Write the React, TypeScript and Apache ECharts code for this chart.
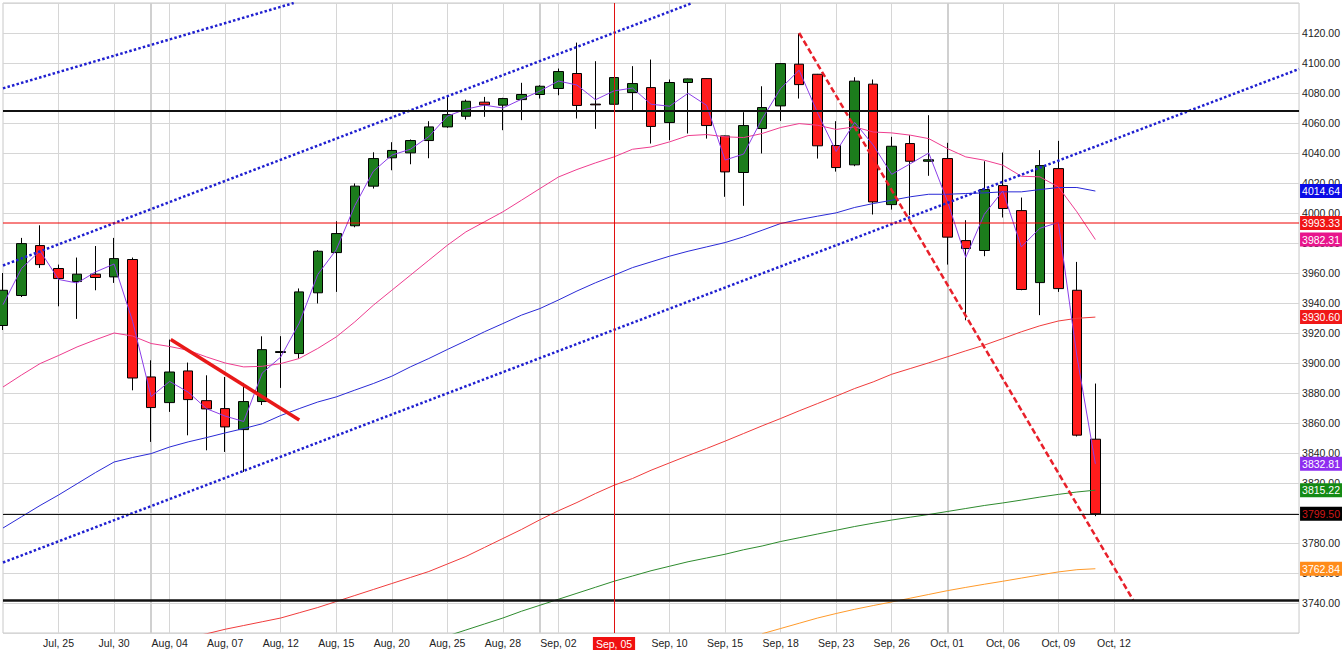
import React, { useEffect, useRef } from 'react';
import * as echarts from 'echarts';

// ---------- axis / tick labels ----------
const xLabels = ['Jul, 25', 'Jul, 30', 'Aug, 04', 'Aug, 07', 'Aug, 12', 'Aug, 15', 'Aug, 20', 'Aug, 25', 'Aug, 28', 'Sep, 02',
  'Sep, 05', 'Sep, 10', 'Sep, 15', 'Sep, 18', 'Sep, 23', 'Sep, 26', 'Oct, 01', 'Oct, 06', 'Oct, 09', 'Oct, 12'];
const slotCount = 71;          // bar slots on the axis (60 traded + empty future slots)
const firstLabelSlot = 3;
const labelStep = 3;
const highlightSlot = 33;      // Sep, 05 cursor
const monthStartSlots = [8, 29, 51];
const yMin = 3720;
const yMax = 4140;
const yStep = 20;

// ---------- candles: [open, close, low, high] ----------
const candles = [
  [3925, 3948.5, 3922, 3960], [3945, 3979.6, 3944, 3983.4], [3978.3, 3965.6, 3963.4, 3991.8], [3963, 3956.3, 3937.8, 3965.6],
  [3954.3, 3959.2, 3929.4, 3970.3], [3959.2, 3957, 3948.5, 3978], [3957.4, 3969.6, 3953.4, 3983.4], [3969, 3890, 3881.8, 3970.3],
  [3890.7, 3870.3, 3847.4, 3901.8], [3873.6, 3894, 3867.4, 3915.6], [3894.7, 3875.6, 3851.8, 3900.3], [3874.9, 3869.4, 3841.8, 3891.8],
  [3869.6, 3857.4, 3840.7, 3890.7], [3855.6, 3874.3, 3827.4, 3886.7], [3874.3, 3908.9, 3872, 3917.8], [3907, 3907.6, 3883.4, 3917.9],
  [3906.3, 3947.4, 3903, 3949.7], [3946.8, 3974.5, 3939.7, 3975.2], [3973.6, 3986.3, 3947.4, 3994.5], [3991.5, 4017.9, 3990.5, 4019.7],
  [4017.9, 4036.3, 4016.3, 4040.5], [4036.8, 4041.7, 4028.5, 4047.2], [4040.1, 4048.3, 4032.5, 4049], [4048.3, 4057.4, 4036.5, 4061.2],
  [4057.4, 4065.6, 4056.8, 4078.5], [4064.5, 4074.5, 4062.3, 4075.6], [4073.9, 4072.1, 4064.1, 4077.4], [4071.9, 4076.3, 4055.2, 4076.8],
  [4075.6, 4079, 4061.9, 4086.8], [4079, 4084.5, 4076.3, 4085.2], [4083, 4094.3, 4078.5, 4096.3], [4093, 4071.7, 4063, 4113.6],
  [4072.6, 4072.1, 4056.1, 4101.2], [4072.5, 4090.3, 4072.3, 4090.5], [4080.3, 4086.3, 4068.5, 4097.9], [4083.6, 4057.7, 4046.3, 4102.3],
  [4060.3, 4087, 4048.5, 4089], [4087, 4089.4, 4053, 4089.6], [4089.6, 4058.3, 4049.6, 4089.8], [4051.4, 4027.4, 4010.8, 4051.6],
  [4027, 4058.3, 4004.8, 4067.2], [4056.3, 4070.3, 4039.7, 4084.5], [4071.4, 4099.6, 4061.4, 4099.8], [4099.2, 4085.6, 4076.3, 4119.6],
  [4092.5, 4044.8, 4036.3, 4092.7], [4045, 4030.3, 4027.6, 4061.2], [4032.1, 4087.9, 4031.2, 4090.5], [4085.9, 4007.4, 3999, 4089],
  [4005.6, 4044.5, 4002.3, 4050.8], [4046.3, 4034.5, 3998.5, 4051.9], [4034.5, 4035.5, 4024.8, 4065.2], [4036.3, 3983.9, 3965.6, 4046.8],
  [3981.6, 3976.3, 3928.5, 3995.2], [3975, 4015.6, 3971.2, 4034.5], [4018.3, 4003, 3997, 4040.3], [4001.6, 3949, 3948.5, 4010.3],
  [3953.6, 4031.6, 3931.9, 4041.9], [4029.6, 3949.6, 3947.4, 4048.1], [3948.5, 3851.9, 3851, 3967.4], [3849.2, 3799.5, 3797.9, 3886.3],
];

// ---------- overlay lines ----------
const avgPriceLine = [
  3938.9, 3963, 3974.8, 3955.7, 3953.3, 3960.7, 3966, 3927.8, 3877.6, 3887.7,
  3880.6, 3869.5, 3864.6, 3861, 3893.3, 3904, 3926.6, 3959, 3975.5, 4004.9,
  4027.8, 4038.6, 4042.5, 4050.9, 4064.6, 4069.2, 4071.9, 4070, 4075.8, 4081.3,
  4088, 4085.3, 4075.5, 4081.4, 4083.3, 4072.5, 4071.2, 4079.8, 4071.8, 4035.3,
  4039.3, 4062.7, 4083, 4095.2, 4066.6, 4041, 4060.4, 4045.3, 4025.8, 4032.8,
  4040, 4008.2, 3970.4, 3999.1, 4014.7, 3977.4, 3989.8, 3993.7, 3904.7, 3832.81,
];
const pinkMa = [
  3884, 3892, 3899.6, 3905, 3910.7, 3915.5, 3920, 3918, 3913, 3911,
  3908.5, 3904, 3900, 3897.4, 3897.8, 3899.6, 3903, 3909.7, 3917.4, 3927.4,
  3938.5, 3948.5, 3958.5, 3968.5, 3978.5, 3987.4, 3994.1, 4000.8, 4008.5, 4016.3,
  4024, 4029, 4033.4, 4037.4, 4042.5, 4044, 4047.4, 4051.6, 4052.3, 4050.8,
  4050.3, 4053, 4057, 4059.6, 4058.5, 4055.7, 4057.4, 4054, 4053.4, 4051.9,
  4049.6, 4043, 4037.4, 4035.2, 4031.9, 4024.5, 4024.1, 4017.4, 4000.8, 3982.31,
];
const blueMa = [
  3790, 3797.5, 3805, 3812, 3819.5, 3827, 3834, 3837, 3839.6, 3844,
  3847.4, 3850.3, 3853.4, 3856.3, 3859.5, 3865, 3869.6, 3874, 3877.4, 3881.9,
  3886.3, 3891.2, 3897.4, 3903, 3909, 3914.8, 3920.8, 3926.3, 3931.9, 3936.3,
  3942, 3948, 3953.5, 3958.5, 3963.6, 3967.4, 3971.2, 3974.5, 3977.4, 3980.3,
  3984.1, 3988.5, 3993, 3995.6, 3997.9, 4000.1, 4003.7, 4006.3, 4008.5, 4010.8,
  4012.5, 4012.5, 4013, 4013.4, 4014.1, 4014.1, 4015.6, 4017, 4017, 4014.64,
];
const redMa = [
  null, null, null, null, null, null, null, null, null, null,
  3717, 3719.5, 3722.5, 3725, 3727.5, 3730, 3733.5, 3737, 3741, 3745,
  3749, 3753, 3757, 3761, 3766, 3771, 3777, 3783, 3789, 3795.5,
  3801.5, 3807, 3813, 3818.5, 3823, 3828.5, 3833.4, 3838.3, 3843, 3847.9,
  3853, 3858.1, 3863, 3868.1, 3873, 3877.9, 3883, 3887.4, 3892.5, 3896.3,
  3900.1, 3904.1, 3908.1, 3911.9, 3916.3, 3920.8, 3924.8, 3928, 3929.8, 3930.6,
];
const greenMa = [
  null, null, null, null, null, null, null, null, null, null,
  null, null, null, null, null, null, null, null, null, null,
  null, null, null, null, 3718, 3722, 3726, 3730, 3734.5, 3738.5,
  3742.5, 3746.5, 3750.5, 3754.5, 3758, 3761.5, 3764.5, 3767.5, 3770, 3772.5,
  3775.5, 3778, 3781, 3783.5, 3786, 3788.5, 3791, 3793.2, 3795.3, 3797.2,
  3799, 3801, 3803, 3805, 3806.7, 3808.6, 3810.6, 3812.4, 3814, 3815.22,
];
const orangeMa = [
  null, null, null, null, null, null, null, null, null, null,
  null, null, null, null, null, null, null, null, null, null,
  null, null, null, null, null, null, null, null, null, null,
  null, null, null, null, null, null, null, null, null, null,
  null, 3719.5, 3723, 3726.5, 3730, 3733, 3735.8, 3738.3, 3740.7, 3743.2,
  3745.7, 3748.2, 3750.4, 3752.5, 3754.5, 3756.6, 3758.7, 3760.7, 3762.2, 3762.84,
];

// ---------- drawn trend lines: [slot, value] endpoints ----------
const channelTopLine = [[0, 4083.1], [15.7, 4140]];
const channelMidLine = [[0, 3965], [37.23, 4140]];
const channelLowLine = [[0, 3767], [70, 4096]];
const shortDownLine = [[9.06, 3915.7], [16, 3862]];
const longDownLine = [[43, 4120], [61.04, 3742]];

// ---------- horizontal levels ----------
const resistanceLevel = 4068.3;
const supportLevel = 3742;
const redLevel = 3993.33;
const lastClose = 3799.5;

// ---------- right-hand value tags ----------
const tagValues = [4014.64, 3982.31, 3930.6, 3832.81, 3815.22, 3762.84];
const tagColors = ['#0b0be6', '#e8158c', '#f01818', '#8e2cf0', '#148a14', '#ff8c1a'];

const FONT = 'Liberation Sans, Arial, sans-serif';

function tagLabel(v: number, bg: string, fg: string) {
  return {
    show: true,
    position: 'end',
    distance: 1,
    formatter: () => v.toFixed(2),
    backgroundColor: bg,
    color: fg,
    fontSize: 10.5,
    fontFamily: FONT,
    padding: [1, 2, 1, 2],
    lineHeight: 12,
  };
}

function levelSeries(value: number, color: string, width: number, label: any, z: number) {
  return {
    type: 'line',
    data: [],
    z,
    silent: true,
    color,
    markLine: {
      z,
      silent: true,
      symbol: 'none',
      lineStyle: { color, width, type: 'solid', opacity: 1 },
      label,
      data: [{ yAxis: value }],
    },
  };
}

function App() {
  const ref = useRef<HTMLDivElement>(null);

  useEffect(() => {
    const chart = echarts.init(ref.current as HTMLDivElement, null, { renderer: 'svg' });
    const isLabelSlot = (i: number) =>
      i >= firstLabelSlot && (i - firstLabelSlot) % labelStep === 0 && (i - firstLabelSlot) / labelStep < xLabels.length;
    const categories = Array.from({ length: slotCount }, (_, i) =>
      isLabelSlot(i) ? xLabels[(i - firstLabelSlot) / labelStep] : '#' + i);

    const maLine = (data: (number | null)[], color: string) => ({
      type: 'line',
      data,
      symbol: 'none',
      showSymbol: false,
      connectNulls: false,
      lineStyle: { color, width: 1 },
      z: 3,
      silent: true,
    });
    const trendLine = (data: number[][], color: string, width: number, type: any, z = 4) => ({
      type: 'line',
      xAxisIndex: 1,
      data,
      symbol: 'none',
      showSymbol: false,
      color,
      lineStyle: { color, width, type, cap: 'butt' },
      z,
      silent: true,
    });

    const option: any = {
      animation: false,
      backgroundColor: '#ffffff',
      grid: { left: 3, right: 43, top: 3, bottom: 29, show: true, borderColor: '#c8c8c8', borderWidth: 1, backgroundColor: 'transparent' },
      xAxis: [
        {
          type: 'category',
          data: categories,
          boundaryGap: false,
          axisLine: { show: false },
          axisTick: { show: false },
          axisLabel: {
            interval: (i: number) => isLabelSlot(i),
            formatter: (v: string, i: number) => {
              if (!isLabelSlot(i)) return '';
              return i === highlightSlot ? '{hl|' + v + '}' : v;
            },
            color: '#222',
            fontSize: 10.5,
            fontFamily: FONT,
            margin: 4,
            rich: {
              hl: { backgroundColor: '#f01010', color: '#ffffff', fontSize: 10.5, fontFamily: FONT, padding: [1, 3, 1, 3] },
            },
          },
          splitLine: { show: true, interval: (i: number) => isLabelSlot(i), lineStyle: { color: '#d6d6d6', width: 1 } },
        },
        { type: 'value', min: 0, max: slotCount - 1, show: false },
      ],
      yAxis: {
        type: 'value',
        position: 'right',
        min: yMin,
        max: yMax,
        interval: yStep,
        axisLine: { show: false },
        axisTick: { show: false },
        axisLabel: {
          formatter: (v: number) => v.toFixed(2),
          color: '#222',
          fontSize: 10.5,
          fontFamily: FONT,
          margin: 3,
          showMinLabel: false,
          showMaxLabel: false,
        },
        splitLine: { lineStyle: { color: '#d6d6d6', width: 1 } },
      },
      series: [
        {
          type: 'line',
          data: [],
          z: 1,
          silent: true,
          markLine: {
            z: 1,
            silent: true,
            symbol: 'none',
            label: { show: false },
            lineStyle: { color: '#d0d0d0', width: 2, type: 'solid' },
            data: monthStartSlots.map((s) => ({ xAxis: s })),
          },
        },
        {
          type: 'candlestick',
          data: candles,
          barWidth: 10,
          z: 2,
          silent: true,
          itemStyle: { color: '#1c7c1c', color0: '#ff1c1c', borderColor: '#000000', borderColor0: '#000000', borderWidth: 1 },
        },
        maLine(orangeMa, '#ff9a2a'),
        maLine(greenMa, '#2e8b2e'),
        maLine(redMa, '#f03c3c'),
        maLine(blueMa, '#2a2ad6'),
        maLine(pinkMa, '#ee3d8f'),
        maLine(avgPriceLine, '#8b3ee8'),
        trendLine(channelTopLine, '#1f1fd0', 2.5, [2.5, 2.2]),
        trendLine(channelMidLine, '#1f1fd0', 2.5, [2.5, 2.2]),
        trendLine(channelLowLine, '#1f1fd0', 2.5, [2.5, 2.2]),
        trendLine(shortDownLine, '#e81818', 3.5, 'solid'),
        trendLine(longDownLine, '#e8202a', 2.5, [6, 3]),
        // red horizontal level drawn as a plain line across all slots
        trendLine([[0, redLevel], [slotCount - 1, redLevel]], '#ee0000', 1, 'solid', 5),
        levelSeries(resistanceLevel, '#111111', 2, { show: false }, 5),
        levelSeries(supportLevel, '#111111', 2.5, { show: false }, 5),
        levelSeries(lastClose, '#111111', 1, tagLabel(lastClose, '#000000', '#d01818'), 5),
        {
          type: 'line',
          data: [],
          z: 5,
          silent: true,
          markLine: {
            z: 5,
            silent: true,
            symbol: 'none',
            label: { show: false },
            lineStyle: { color: '#e01010', width: 1, type: 'solid' },
            data: [{ xAxis: highlightSlot }],
          },
        },
        {
          type: 'line',
          data: [],
          z: 6,
          silent: true,
          markLine: {
            z: 6,
            silent: true,
            symbol: 'none',
            data: [
              {
                yAxis: redLevel,
                lineStyle: { color: 'rgba(255,255,255,0)', width: 1, type: 'solid' },
                label: tagLabel(redLevel, '#f01414', '#ffffff'),
              },
              ...tagValues.map((v, k) => ({
                yAxis: v,
                lineStyle: { color: 'rgba(255,255,255,0)', width: 1, type: 'solid' },
                label: tagLabel(v, tagColors[k], '#ffffff'),
              })),
            ],
          },
        },
      ],
    };

    chart.setOption(option);
    return () => chart.dispose();
  }, []);

  return (
    <div
      ref={ref}
      style={{ position: 'fixed', left: 0, top: 0, width: 1343, height: 662, background: '#ffffff' }}
    />
  );
}

export default App;
